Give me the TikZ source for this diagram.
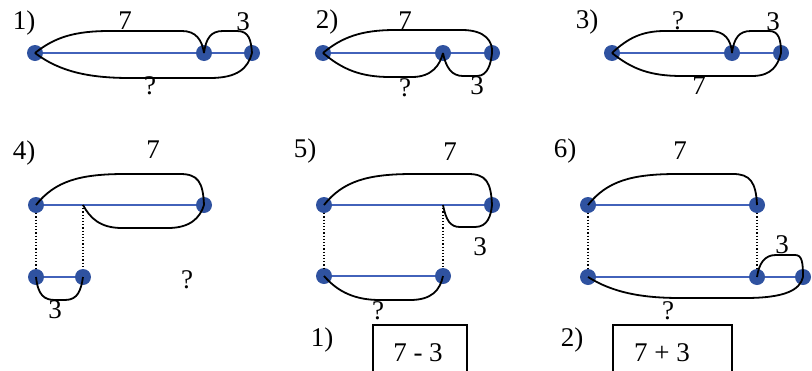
\documentclass[tikz,border=0pt]{standalone}
\usepackage{fontspec}
\setmainfont{Liberation Serif}
\definecolor{beadblue}{RGB}{47,82,160}
\definecolor{segblue}{RGB}{66,98,186}
\tikzset{
    bead/.style={circle, fill=beadblue, inner sep=0pt, minimum size=16pt},
    seg/.style={segblue, line width=1.5pt},
    arc/.style={black, line width=1.8pt},
    guide/.style={black, line width=1.2pt, dotted},
    lbl/.style={inner sep=0pt, font=\fontsize{27}{30}\selectfont},
}

\begin{document}
\begin{tikzpicture}[x=1pt, y=-1pt]
        \useasboundingbox (0, 0) rectangle (812, 370);

        % 1)
        \node[bead] (L1) at (35, 53) {};
        \node[bead] (M1) at (204, 53) {};
        \node[bead] (R1) at (252, 53) {};
        \draw[seg] (L1) -- (M1) -- (R1);
        \draw[arc] (L1.center) .. controls (55, 37) and (75, 31) .. (110, 31) -- (182, 31)
            .. controls (196, 31) and (202, 40) .. (M1.center);
        \draw[arc] (M1.center) .. controls (206, 38) and (211, 31) .. (223, 31) -- (237, 31)
            .. controls (249, 31) and (251, 40) .. (R1.center);
        \draw[arc] (L1.center) .. controls (60, 72) and (90, 78) .. (130, 78) -- (210, 78)
            .. controls (238, 78) and (248, 68) .. (R1.center);
        \node[lbl] (n1) at (24, 23) {1)};
        \node[lbl] (a1) at (125, 21) {7};
        \node[lbl] (b1) at (243, 22) {3};
        \node[lbl] (q1) at (150, 86) {?};

        % 2)
        \node[bead] (L2) at (323, 53) {};
        \node[bead] (M2) at (443, 53) {};
        \node[bead] (R2) at (492, 53) {};
        \draw[seg] (L2) -- (M2) -- (R2);
        \draw[arc] (L2.center) .. controls (342, 37) and (362, 30) .. (395, 30) -- (462, 30)
            .. controls (486, 30) and (493, 42) .. (R2.center);
        \draw[arc] (L2.center) .. controls (342, 69) and (360, 77) .. (390, 77) -- (412, 77)
            .. controls (432, 77) and (440, 65) .. (M2.center);
        \draw[arc] (M2.center) .. controls (446, 68) and (452, 76) .. (463, 76) -- (477, 76)
            .. controls (488, 76) and (491, 63) .. (R2.center);
        \node[lbl] (n2) at (327, 22) {2)};
        \node[lbl] (a2) at (405, 21) {7};
        \node[lbl] (q2) at (405, 88) {?};
        \node[lbl] (b2) at (477, 86) {3};

        % 3)
        \node[bead] (L3) at (612, 53) {};
        \node[bead] (M3) at (732, 53) {};
        \node[bead] (R3) at (781, 53) {};
        \draw[seg] (L3) -- (M3) -- (R3);
        \draw[arc] (L3.center) .. controls (628, 38) and (642, 31) .. (665, 31) -- (710, 31)
            .. controls (725, 31) and (731, 40) .. (M3.center);
        \draw[arc] (M3.center) .. controls (734, 38) and (739, 31) .. (751, 31) -- (769, 31)
            .. controls (779, 31) and (781, 40) .. (R3.center);
        \draw[arc] (L3.center) .. controls (632, 69) and (650, 76) .. (682, 76) -- (752, 76)
            .. controls (772, 76) and (778, 65) .. (R3.center);
        \node[lbl] (n3) at (587, 22) {3)};
        \node[lbl] (q3) at (678, 21) {?};
        \node[lbl] (b3) at (773, 22) {3};
        \node[lbl] (a3) at (699, 86) {7};

        % 4)
        \node[bead] (TL4) at (36, 205) {};
        \node[bead] (TR4) at (204, 205) {};
        \coordinate (C4) at (83, 205);
        \node[bead] (BL4) at (36, 277) {};
        \node[bead] (BR4) at (83, 277) {};
        \draw[seg] (TL4) -- (TR4);
        \draw[seg] (BL4) -- (BR4);
        \draw[guide] (TL4) -- (BL4);
        \draw[guide] (C4) -- (BR4);
        \draw[arc] (TL4.center) .. controls (55, 181) and (80, 174) .. (125, 174) -- (180, 174)
            .. controls (198, 174) and (203, 182) .. (TR4.center);
        \draw[arc] (C4) .. controls (90, 218) and (100, 228) .. (122, 228) -- (168, 228)
            .. controls (190, 228) and (200, 218) .. (TR4.center);
        \draw[arc] (BL4.center) .. controls (38, 295) and (44, 300) .. (55, 300) -- (65, 300)
            .. controls (78, 300) and (81, 290) .. (BR4.center);
        \node[lbl] (n4) at (24, 153) {4)};
        \node[lbl] (a4) at (153, 150) {7};
        \node[lbl] (b4) at (55, 310) {3};
        \node[lbl] (q4) at (187, 280) {?};

        % 5)
        \node[bead] (TL5) at (324, 205) {};
        \node[bead] (TR5) at (492, 205) {};
        \coordinate (C5) at (443, 205);
        \node[bead] (BL5) at (324, 276) {};
        \node[bead] (BR5) at (443, 276) {};
        \draw[seg] (TL5) -- (TR5);
        \draw[seg] (BL5) -- (BR5);
        \draw[guide] (TL5) -- (BL5);
        \draw[guide] (C5) -- (BR5);
        \draw[arc] (TL5.center) .. controls (343, 181) and (368, 174) .. (413, 174) -- (468, 174)
            .. controls (486, 174) and (491, 182) .. (TR5.center);
        \draw[arc] (C5) .. controls (446, 220) and (450, 227) .. (460, 227) -- (475, 227)
            .. controls (488, 227) and (491, 215) .. (TR5.center);
        \draw[arc] (BL5.center) .. controls (338, 292) and (355, 300) .. (380, 300) -- (410, 300)
            .. controls (432, 300) and (440, 290) .. (BR5.center);
        \node[lbl] (n5) at (305, 151) {5)};
        \node[lbl] (a5) at (450, 152) {7};
        \node[lbl] (b5) at (480, 247) {3};
        \node[lbl] (q5) at (378, 311) {?};
        \node[lbl] (k1) at (322, 340) {1)};
        \draw[line width=1.4pt] (373, 372) |- (467, 325) -- (467, 372);
        \node[lbl] (e1) at (418, 353) {7 - 3};

        % 6)
        \node[bead] (TL6) at (588, 205) {};
        \node[bead] (TR6) at (757, 205) {};
        \node[bead] (BL6) at (588, 277) {};
        \node[bead] (BM6) at (757, 277) {};
        \node[bead] (BR6) at (803, 277) {};
        \draw[seg] (TL6) -- (TR6);
        \draw[seg] (BL6) -- (BM6) -- (BR6);
        \draw[guide] (TL6) -- (BL6);
        \draw[guide] (TR6) -- (BM6);
        \draw[arc] (TL6.center) .. controls (607, 181) and (632, 174) .. (677, 174) -- (733, 174)
            .. controls (750, 174) and (756, 182) .. (TR6.center);
        \draw[arc] (BM6.center) .. controls (759, 264) and (764, 255) .. (776, 255) -- (795, 255)
            .. controls (802, 255) and (803, 262) .. (BR6.center);
        \draw[arc] (BL6.center) .. controls (612, 292) and (640, 298) .. (680, 298) -- (745, 298)
            .. controls (785, 298) and (800, 290) .. (BR6.center);
        \node[lbl] (n6) at (565, 151) {6)};
        \node[lbl] (a6) at (680, 151) {7};
        \node[lbl] (b6) at (782, 245) {3};
        \node[lbl] (q6) at (668, 311) {?};
        \node[lbl] (k2) at (572, 340) {2)};
        \draw[line width=1.4pt] (613, 372) |- (732, 325) -- (732, 372);
        \node[lbl] (e2) at (662, 353) {7 + 3};
\end{tikzpicture}
\end{document}
